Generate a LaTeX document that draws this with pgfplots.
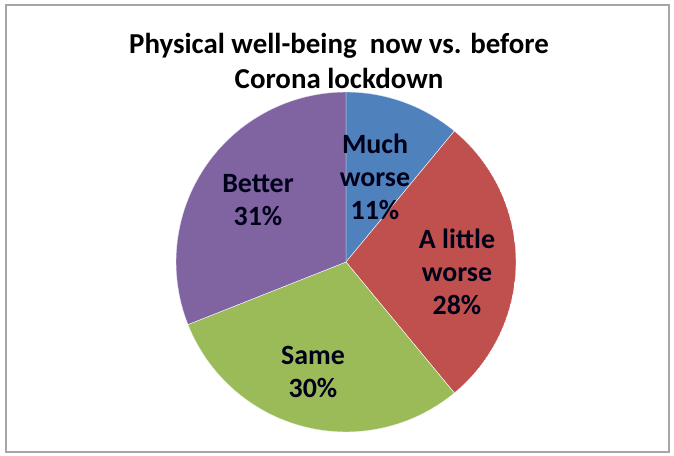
\documentclass[border=0pt]{standalone}
\usepackage{pgfplots}
\pgfplotsset{compat=1.18}
\usepgfplotslibrary{polar}
\usepackage{fontspec}
\setmainfont{Carlito}
\definecolor{cblue}{HTML}{4F81BD}
\definecolor{cred}{HTML}{C0504D}
\definecolor{cgreen}{HTML}{9BBB59}
\definecolor{cpurple}{HTML}{8064A2}
\begin{document}
\begin{tikzpicture}[x=1bp,y=1bp]
\path (0,0) rectangle (674,456);
\draw[gray!70, line width=1.2bp] (6,4) rectangle (669,451);
\begin{polaraxis}[
  at={(346bp,194bp)}, anchor=center,
  scale only axis, width=340bp, height=340bp,
  hide axis, xmin=0, xmax=360, ymin=0, ymax=1,
]
% shares (%): Much worse 11, A little worse 28, Same 30, Better 31 (clockwise from top)
\addplot[fill=cblue, draw=white, line width=0.4bp, domain={90}:{90-3.6*11}, samples=40] {1} -- (axis cs:0,0) -- cycle;
\addplot[fill=cred, draw=white, line width=0.4bp, domain={90-3.6*11}:{90-3.6*(11+28)}, samples=60] {1} -- (axis cs:0,0) -- cycle;
\addplot[fill=cgreen, draw=white, line width=0.4bp, domain={90-3.6*(11+28)}:{90-3.6*(11+28+30)}, samples=60] {1} -- (axis cs:0,0) -- cycle;
\addplot[fill=cpurple, draw=white, line width=0.4bp, domain={90-3.6*(11+28+30)}:{90-3.6*100}, samples=60] {1} -- (axis cs:0,0) -- cycle;
\end{polaraxis}
\node[font=\fontsize{29}{35}\selectfont\bfseries, align=center] at (339,395) {Physical well-being\ \ now vs. before\\Corona lockdown};
\begin{scope}[every node/.style={font=\fontsize{28}{33}\selectfont\bfseries, align=center, text=black!90!blue}]
\node at (375,279.5) {Much\\worse\\11\%};
\node at (457,184) {A little\\worse\\28\%};
\node at (313,84) {Same\\30\%};
\node at (258,256) {Better\\31\%};
\end{scope}
\end{tikzpicture}
\end{document}
